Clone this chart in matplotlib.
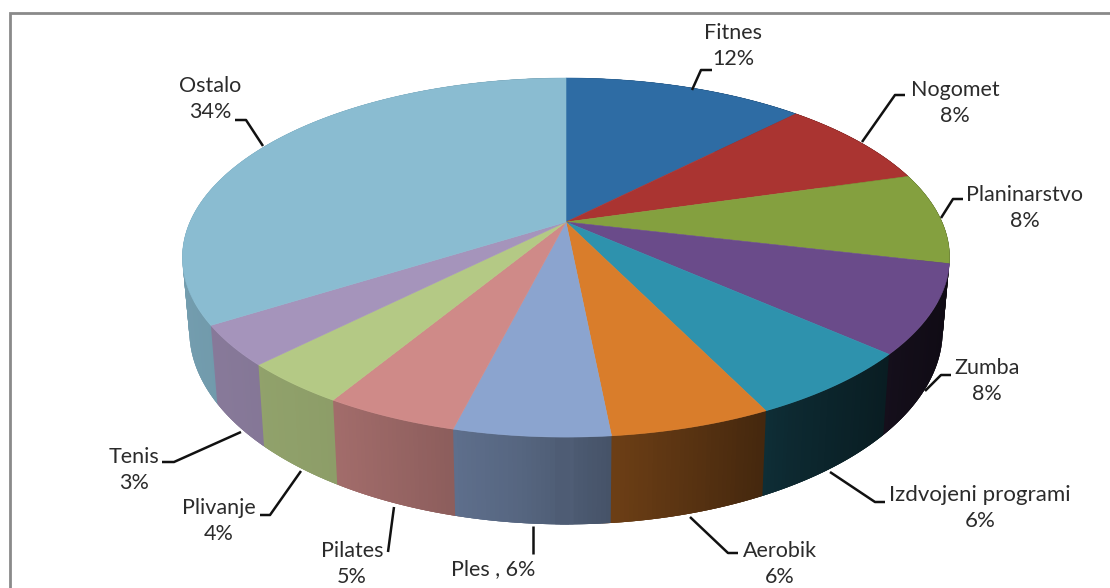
import numpy as np
import matplotlib
matplotlib.use("Agg")
import matplotlib.pyplot as plt
from matplotlib.patches import Polygon

# --- data ---
categories = ["Fitnes", "Nogomet", "Planinarstvo", "Zumba", "Izdvojeni programi", "Aerobik",
              "Ples", "Pilates", "Plivanje", "Tenis", "Ostalo"]
shares = [12.3, 8.2, 8.2, 7.9, 6.2, 5.65, 5.45, 4.7, 3.8, 3.6, 34.0]
percent_labels = [12, 8, 8, 8, 6, 6, 6, 5, 4, 3, 34]

# --- style and layout ---
top_colors = ["#2e6ca4", "#aa3431", "#84a03f", "#6a4b8a", "#2e92ad", "#d97d2b",
              "#8ba4cf", "#cf8a88", "#b4c985", "#a594bb", "#8abcd1"]
label_centers = [(733, 46), (955, 103), (1025, 208), (987, 381), (980, 508), (780, 564),
                 (493, 569), (352, 564), (219, 521), (134, 470), (210, 99)]
leader_lines = [[(712, 70), (701, 70), (692, 90)],
                [(905, 95), (895, 95), (862, 142)],
                [(963, 199), (953, 199), (941, 218)],
                [(951, 375), (941, 375), (925, 391)],
                [(885, 502), (875, 502), (830, 472)],
                [(738, 553), (728, 553), (690, 517)],
                [(533, 554), (533, 526)],
                [(388, 552), (394, 507)],
                [(260, 515), (270, 515), (301, 471)],
                [(162, 462), (174, 462), (241, 432)],
                [(235, 120), (246, 120), (263, 146)]]

CX, CY = 566, 222
A, B, K = 376, 172.5, 0.198
DEPTH, SHRINK = 70, 0.982
STEP = 0.01


def top_xy(theta):
    u, v = np.sin(theta), np.cos(theta)
    w = 1 + K * v
    return CX + A * u / w, CY - B * v / w


def bottom_xy(theta):
    u, v = np.sin(theta), np.cos(theta)
    w = 1 + K * v
    return CX + SHRINK * A * u / w, CY + (DEPTH - B * v) / w


def shade(color, theta):
    f = np.interp(np.sin(theta), [-1, -0.5, -0.1, 0.1, 0.5, 0.8, 1],
                  [0.84, 0.78, 0.62, 0.50, 0.28, 0.18, 0.14])
    return tuple(f * c for c in matplotlib.colors.to_rgb(color))


fig = plt.figure(figsize=(11.1, 5.88), dpi=100, facecolor="white")
ax = fig.add_axes([0, 0, 1, 1])
ax.set_xlim(0, 1110)
ax.set_ylim(588, 0)
ax.axis("off")

ax.plot([10, 10, 1110], [588, 12.5, 12.5], color="#8a8a8a", lw=2.0, solid_joinstyle="miter")

edges = np.concatenate([[0], np.cumsum(shares)]) / np.sum(shares) * 2 * np.pi

strips = []
for i in range(len(shares)):
    n = max(int((edges[i + 1] - edges[i]) / STEP), 2)
    th = np.linspace(edges[i], edges[i + 1], n + 1)
    for a, b in zip(th[:-1], th[1:]):
        strips.append((np.cos((a + b) / 2), a, b, top_colors[i]))
strips.sort(key=lambda s: -s[0])
for _, a, b, col in strips:
    mid = (a + b) / 2
    # each strip runs a little under the next one towards the viewer, so no seams show
    if np.sin(mid) >= 0:
        b2 = b + 2 * STEP
        a2 = a
    else:
        a2 = a - 2 * STEP
        b2 = b
    th = np.linspace(a2, b2, 4)
    tx, ty = top_xy(th)
    bx, by = bottom_xy(th[::-1])
    ax.add_patch(Polygon(np.column_stack([np.r_[tx, bx], np.r_[ty, by]]),
                         closed=True, fc=shade(col, mid), ec="none", lw=0, zorder=2))

for i in range(len(shares)):
    th = np.linspace(edges[i], edges[i + 1], 200)
    x, y = top_xy(th)
    ax.add_patch(Polygon(np.column_stack([np.r_[CX, x], np.r_[CY, y]]), closed=True,
                         fc=top_colors[i], ec=top_colors[i], lw=0.4, zorder=3))

for i, name in enumerate(categories):
    pts = np.array(leader_lines[i])
    ax.plot(pts[:, 0], pts[:, 1], color="#111111", lw=1.8, zorder=4, solid_capstyle="butt")
    sep = " , " if name == "Ples" else "\n"
    ax.text(*label_centers[i], f"{name}{sep}{percent_labels[i]}%", ha="center", va="center",
            fontsize=16 if name.startswith("Izd") else 15.5, family="Lato", color="#2b2b2b",
            linespacing=1.42, zorder=5)

fig.savefig("out.png", dpi=100)
